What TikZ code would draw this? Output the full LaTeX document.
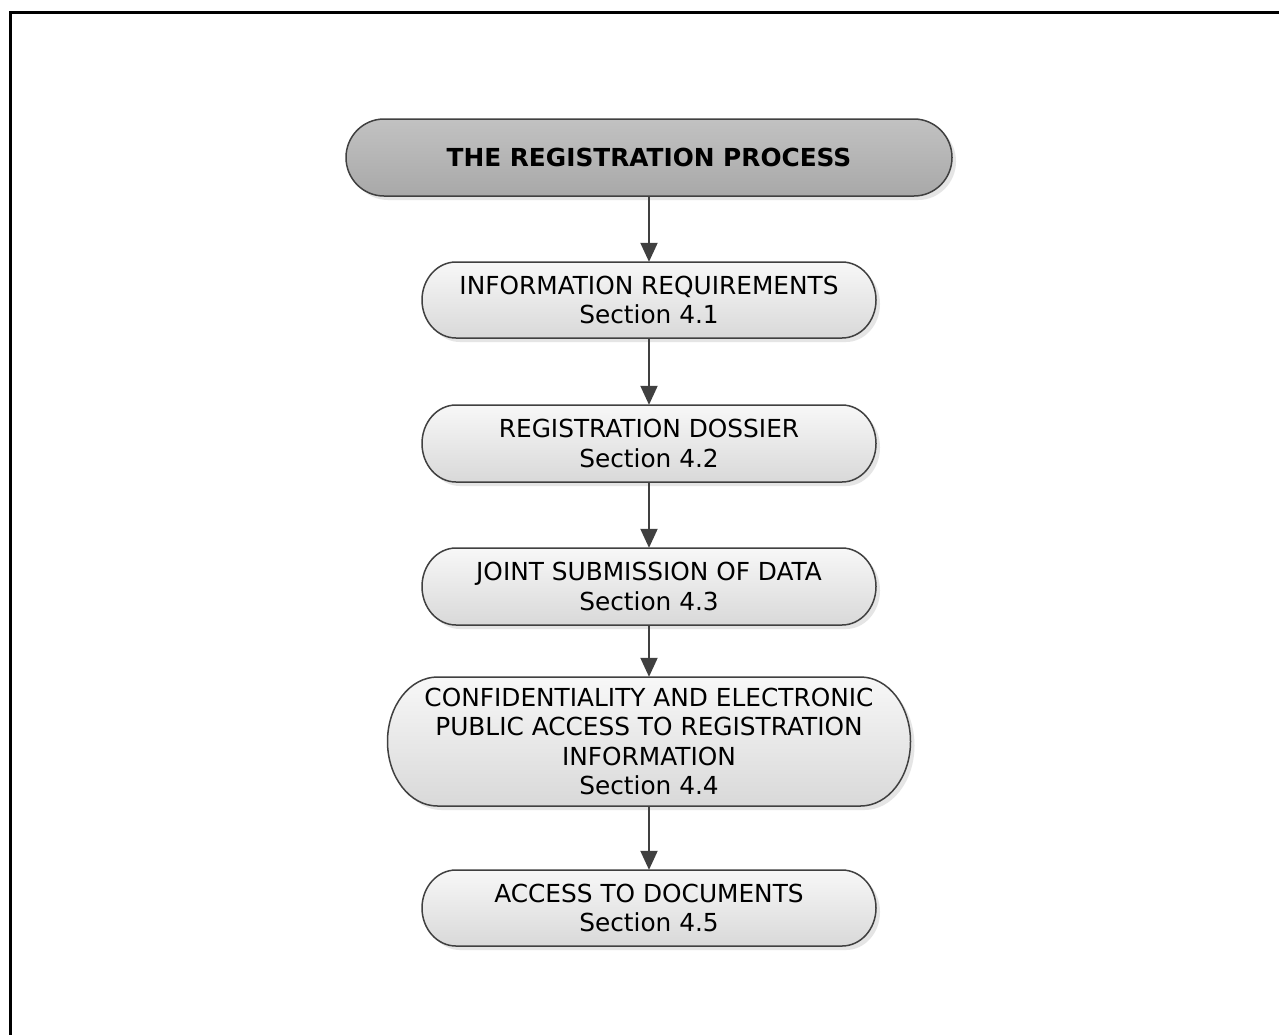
\documentclass[tikz,border=0pt]{standalone}
\usepackage{fontspec}
\setmainfont{DejaVu Sans}
\usetikzlibrary{shadows,arrows.meta}
\tikzset{
  boxshape/.style={draw=black!75, line width=1.5pt, top color=black!3, bottom color=black!15,
    drop shadow={shadow xshift=4pt, shadow yshift=-4pt, fill=black!10, opacity=1}},
  headshape/.style={draw=black!75, line width=1.5pt, top color=black!24, bottom color=black!34,
    drop shadow={shadow xshift=4pt, shadow yshift=-4pt, fill=black!10, opacity=1}},
  boxtext/.style={align=center, font=\fontsize{24.8}{29.5}\selectfont, inner sep=0pt, draw=none},
  headtext/.style={boxtext, font=\fontsize{24.8}{29.5}\selectfont\bfseries},
  flow/.style={draw=black!75, line width=2pt, -{Triangle[length=19pt,width=17pt]}},
  frameline/.style={draw=black, line width=3pt}
}
% #1 style, #2 cx, #3 cy (px, downward), #4 w, #5 h, #6 rx
\newcommand\stadiumpath[6]{%
  \path[#1] ({#2-#4/2+#6},{-#3+#5/2}) -- ({#2+#4/2-#6},{-#3+#5/2})
    arc[start angle=90, end angle=-90, x radius=#6, y radius={#5/2}]
    -- ({#2-#4/2+#6},{-#3-#5/2})
    arc[start angle=270, end angle=90, x radius=#6, y radius={#5/2}] -- cycle;}
\begin{document}
\begin{tikzpicture}[x=1pt,y=1pt]
\useasboundingbox (0,0) rectangle (1279,-1034);
\fill[white] (0,0) rectangle (1279,-1034);
\draw[frameline] (10.5,-1040) -- (10.5,-12.5) -- (1285,-12.5);

\stadiumpath{headshape}{649}{157.5}{606}{77}{38}
\node[headtext, minimum width=606pt, minimum height=77pt] (n0) at (649,-157.5) {THE REGISTRATION PROCESS};

\stadiumpath{boxshape}{649}{300}{454}{76}{34}
\node[boxtext, minimum width=454pt, minimum height=76pt] (n1) at (649,-300) {INFORMATION REQUIREMENTS\\Section 4.1};

\stadiumpath{boxshape}{649}{443.5}{454}{77}{34}
\node[boxtext, minimum width=454pt, minimum height=77pt] (n2) at (649,-443.5) {REGISTRATION DOSSIER\\Section 4.2};

\stadiumpath{boxshape}{649}{586.5}{454}{77}{34}
\node[boxtext, minimum width=454pt, minimum height=77pt] (n3) at (649,-586.5) {JOINT SUBMISSION OF DATA\\Section 4.3};

\stadiumpath{boxshape}{649}{741.5}{523}{129}{50}
\node[boxtext, minimum width=523pt, minimum height=129pt] (n4) at (649,-741.5) {CONFIDENTIALITY AND ELECTRONIC\\PUBLIC ACCESS TO REGISTRATION\\INFORMATION\\Section 4.4};

\stadiumpath{boxshape}{649}{908}{454}{76}{34}
\node[boxtext, minimum width=454pt, minimum height=76pt] (n5) at (649,-908) {ACCESS TO DOCUMENTS\\Section 4.5};

\draw[flow] (n0.south) -- (n1.north);
\draw[flow] (n1.south) -- (n2.north);
\draw[flow] (n2.south) -- (n3.north);
\draw[flow] (n3.south) -- (n4.north);
\draw[flow] (n4.south) -- (n5.north);
\end{tikzpicture}
\end{document}
